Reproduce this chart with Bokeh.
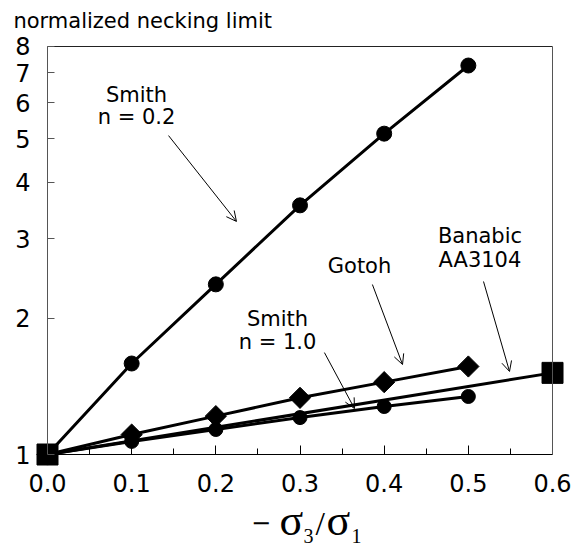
from bokeh.plotting import figure
from bokeh.models import (Range1d, FixedTicker, Label, Arrow, OpenHead,
                          PrintfTickFormatter, LinearAxis, LogAxis)
from bokeh.embed import file_html
from bokeh.resources import INLINE
import numpy as np

# ---- data ----
x_smith02 = [0.0, 0.1, 0.2, 0.3, 0.4, 0.5]
y_smith02 = [1.0, 1.59, 2.38, 3.56, 5.13, 7.26]

x_gotoh = [0.0, 0.1, 0.2, 0.3, 0.4, 0.5]
y_gotoh = [1.0, 1.107, 1.216, 1.335, 1.446, 1.566]

x_smith10 = [0.0, 0.1, 0.2, 0.3, 0.4, 0.5]
y_smith10 = [1.0, 1.069, 1.136, 1.207, 1.277, 1.344]

x_banabic = [0.0, 0.6]
y_banabic = [1.0, 1.516]

x_ticks = [0.0, 0.1, 0.2, 0.3, 0.4, 0.5, 0.6]
x_minor = [0.05, 0.15, 0.25, 0.35, 0.45, 0.55]
y_ticks = [1, 2, 3, 4, 5, 6, 7, 8]

SANS = "DejaVu Sans"
SERIF = "Liberation Serif"
PPD = 451.8      # pixels per decade on the y axis
K_BASE = 0.34    # baseline correction, fraction of font size

# frame covers the whole canvas; axes are pinned at x=0 / y=1
p = figure(width=575, height=548, x_range=Range1d(-0.05584, 0.62730),
           y_range=Range1d(0.6194, 10.112),
           y_axis_type="log", output_backend="svg", toolbar_location=None,
           min_border_left=0, min_border_right=0, min_border_top=0, min_border_bottom=0)
p.xgrid.visible = False
p.ygrid.visible = False
p.outline_line_color = None
p.background_fill_color = "white"
p.border_fill_color = "white"

xa = p.xaxis[0]
xa.fixed_location = 1
xa.bounds = (x_ticks[0], x_ticks[-1])
xa.ticker = FixedTicker(ticks=x_ticks, minor_ticks=x_minor)
xa.formatter = PrintfTickFormatter(format="%.1f")
xa.major_tick_in = 9
xa.major_tick_out = 0
xa.minor_tick_in = 6
xa.minor_tick_out = 0
xa.axis_line_color = "black"
xa.major_tick_line_color = "black"
xa.minor_tick_line_color = "black"
xa.major_label_text_font = SANS
xa.major_label_text_font_size = "24px"
xa.major_label_text_color = "black"
xa.major_label_standoff = 19

ya = p.yaxis[0]
ya.fixed_location = 0
ya.bounds = (y_ticks[0], y_ticks[-1])
ya.ticker = FixedTicker(ticks=y_ticks, minor_ticks=[])
ya.formatter = PrintfTickFormatter(format="%d")
ya.major_tick_in = 7
ya.major_tick_out = 0
ya.minor_tick_in = 0
ya.minor_tick_out = 0
ya.axis_line_color = "#555555"
ya.major_tick_line_color = "#555555"
ya.major_label_text_font = SANS
ya.major_label_text_font_size = "24px"
ya.major_label_text_color = "black"
ya.major_label_standoff = 17

# top and right frame lines
top_ax = LinearAxis(fixed_location=y_ticks[-1], bounds=(x_ticks[0], x_ticks[-1]),
                    ticker=FixedTicker(ticks=[], minor_ticks=[]),
                    major_label_text_font_size="0px",
                    major_tick_in=0, major_tick_out=0, minor_tick_in=0, minor_tick_out=0,
                    axis_line_color="#222222")
p.add_layout(top_ax, "above")
right_ax = LogAxis(fixed_location=x_ticks[-1], bounds=(y_ticks[0], y_ticks[-1]),
                   ticker=FixedTicker(ticks=[], minor_ticks=[]),
                   major_label_text_font_size="0px",
                   major_tick_in=0, major_tick_out=0, minor_tick_in=0, minor_tick_out=0,
                   axis_line_color="#555555")
p.add_layout(right_ax, "right")

# ---- series ----
p.line(x_smith02, y_smith02, line_width=3, line_color="black")
p.scatter(x_smith02, y_smith02, marker="circle", size=15, color="black")

p.line(x_smith10, y_smith10, line_width=3, line_color="black")
p.scatter(x_smith10, y_smith10, marker="circle", size=14, color="black")

p.line(x_gotoh, y_gotoh, line_width=3, line_color="black")
p.scatter(x_gotoh, y_gotoh, marker="square", size=15, angle=np.pi / 4, color="black")

p.line(x_banabic, y_banabic, line_width=3, line_color="black")
p.scatter(x_banabic, y_banabic, marker="square", size=21, color="black")

# ---- annotations ----
def txt(x, y, s, fs, font=SANS, align="center"):
    yy = y * 10 ** (K_BASE * fs / PPD)
    p.add_layout(Label(x=x, y=yy, text=s, text_font=font, text_font_size=f"{fs}px",
                       text_align=align, text_baseline="alphabetic", text_color="black"))

txt(0.1057, 6.013, "Smith", 21)
txt(0.1057, 5.375, "n = 0.2", 21)
txt(0.2733, 1.920, "Smith", 21)
txt(0.2733, 1.708, "n = 1.0", 21)
txt(0.3707, 2.515, "Gotoh", 21)
txt(0.5138, 2.931, "Banabic", 21)
txt(0.5138, 2.593, "AA3104", 21)

arrows = [
    (0.1438, 5.08, 0.2245, 3.28),
    (0.329, 1.681, 0.3647, 1.264),
    (0.386, 2.378, 0.4218, 1.582),
    (0.518, 2.415, 0.5489, 1.527),
]
for xs, ys, xe, ye in arrows:
    p.add_layout(Arrow(end=OpenHead(size=10, line_width=1, line_color="black"),
                       x_start=xs, y_start=ys, x_end=xe, y_end=ye,
                       line_width=1, line_color="black"))

# title
txt(-0.0405, 8.77, "normalized necking limit", 21, align="left")

# x-axis label  − σ3/σ1
txt(0.2419, 0.6804, "\u2212", 24, font="DejaVu Serif", align="left")
txt(0.2756, 0.6619, "\u03c3", 44, font=SERIF, align="left")
txt(0.3041, 0.6362, "3", 20, font=SERIF, align="left")
txt(0.3184, 0.6619, "/", 34, font=SERIF, align="left")
txt(0.3315, 0.6619, "\u03c3", 44, font=SERIF, align="left")
txt(0.3612, 0.6362, "1", 20, font=SERIF, align="left")

open("out.html", "w").write(file_html(p, INLINE))
